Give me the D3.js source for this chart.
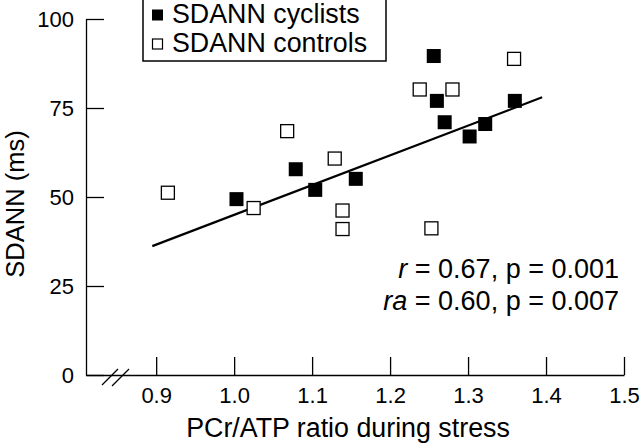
<!DOCTYPE html>
<html>
<head>
<meta charset="utf-8">
<script src="https://cdn.jsdelivr.net/npm/d3@7"></script>
<style>
  body { margin: 0; background: #fff; }
  svg { display: block; font-family: "Liberation Sans", Arial, sans-serif; }
</style>
</head>
<body>
<script>
// PCr/ATP ratio (x) vs SDANN in ms (y)
const cyclistsX = [1.003, 1.079, 1.104, 1.156, 1.256, 1.260, 1.270, 1.302, 1.322, 1.360];
const cyclistsY = [49.4, 57.8, 52.0, 55.1, 89.6, 77.0, 71.0, 67.0, 70.5, 77.0];
const controlsX = [0.915, 1.025, 1.068, 1.129, 1.139, 1.139, 1.238, 1.253, 1.280, 1.359];
const controlsY = [51.2, 46.9, 68.5, 60.8, 46.2, 41.0, 80.2, 41.2, 80.2, 88.8];
const fitX = [0.895, 1.395];
const fitY = [36.2, 78.0];
const xTicks = [0.9, 1.0, 1.1, 1.2, 1.3, 1.4, 1.5];
const yTicks = [0, 25, 50, 75, 100];
const legendLabels = ["SDANN cyclists", "SDANN controls"];

const w = 640, h = 447;
const svg = d3.select("body").append("svg").attr("width", w).attr("height", h);

const x = d3.scaleLinear().domain([0.81, 1.5]).range([86, 624]);
const y = d3.scaleLinear().domain([0, 100]).range([375, 19]);

const xAxis = svg.append("g")
  .attr("transform", `translate(0,${y(0)})`)
  .call(d3.axisBottom(x).tickValues(xTicks).tickFormat(d3.format(".1f"))
    .tickSizeInner(-18).tickSizeOuter(0).tickPadding(12));
const yAxis = svg.append("g")
  .attr("transform", `translate(${x.range()[0]},0)`)
  .call(d3.axisLeft(y).tickValues(yTicks).tickSizeInner(-18).tickSizeOuter(0).tickPadding(12));

[xAxis, yAxis].forEach(g => {
  g.attr("font-family", null);
  g.selectAll("path, line").attr("stroke", "#000").attr("stroke-width", 1.3);
  g.selectAll("text").attr("font-size", 22).attr("fill", "#000");
});

// axis break marks
const brk = svg.append("g").attr("stroke", "#000").attr("stroke-width", 1.3);
[[102, 385, 118, 369], [112, 386, 129, 369]].forEach(c => {
  brk.append("line")
    .attr("x1", c[0]).attr("y1", c[1])
    .attr("x2", c[2]).attr("y2", c[3]);
});

// regression line
svg.append("line")
  .attr("x1", x(fitX[0])).attr("y1", y(fitY[0]))
  .attr("x2", x(fitX[1])).attr("y2", y(fitY[1]))
  .attr("stroke", "#000").attr("stroke-width", 2.2);

const s = 14;
svg.selectAll("rect.ctrl")
  .data(d3.zip(controlsX, controlsY))
  .enter().append("rect").attr("class", "ctrl")
  .attr("x", d => x(d[0]) - s / 2 + 0.5).attr("y", d => y(d[1]) - s / 2 + 0.5)
  .attr("width", s - 1).attr("height", s - 1)
  .attr("fill", "#fff").attr("stroke", "#000").attr("stroke-width", 1.3);

svg.selectAll("rect.cyc")
  .data(d3.zip(cyclistsX, cyclistsY))
  .enter().append("rect").attr("class", "cyc")
  .attr("x", d => x(d[0]) - s / 2).attr("y", d => y(d[1]) - s / 2)
  .attr("width", s).attr("height", s)
  .attr("fill", "#000");

// axis titles
svg.append("text")
  .attr("x", 348).attr("y", 437)
  .attr("text-anchor", "middle").attr("font-size", 26.8)
  .text("PCr/ATP ratio during stress");
svg.append("text")
  .attr("transform", "translate(23.5,204) rotate(-90)")
  .attr("text-anchor", "middle").attr("font-size", 25.5)
  .text("SDANN (ms)");

// legend
const lg = svg.append("g");
lg.append("rect").attr("x", 143).attr("y", -1).attr("width", 243).attr("height", 62)
  .attr("fill", "#fff").attr("stroke", "#000").attr("stroke-width", 1.5);
legendLabels.forEach((lab, i) => {
  const cy = 15 + i * 29;
  if (i === 0) {
    lg.append("rect").attr("x", 152).attr("y", cy - 5.5).attr("width", 11).attr("height", 11).attr("fill", "#000");
  } else {
    lg.append("rect").attr("x", 152.5).attr("y", cy - 5).attr("width", 10).attr("height", 10)
      .attr("fill", "#fff").attr("stroke", "#000").attr("stroke-width", 1.2);
  }
  lg.append("text").attr("x", 172).attr("y", cy + 7.5).attr("font-size", 26.8).text(lab);
});

// statistics
const stats = [["r", " = 0.67, p = 0.001"], ["ra", " = 0.60, p = 0.007"]];
stats.forEach((st, i) => {
  const t = svg.append("text").attr("x", 619).attr("y", 278 + i * 32)
    .attr("text-anchor", "end").attr("font-size", 27);
  t.append("tspan").attr("font-style", "italic").text(st[0]);
  t.append("tspan").text(st[1]);
});
</script>
</body>
</html>
